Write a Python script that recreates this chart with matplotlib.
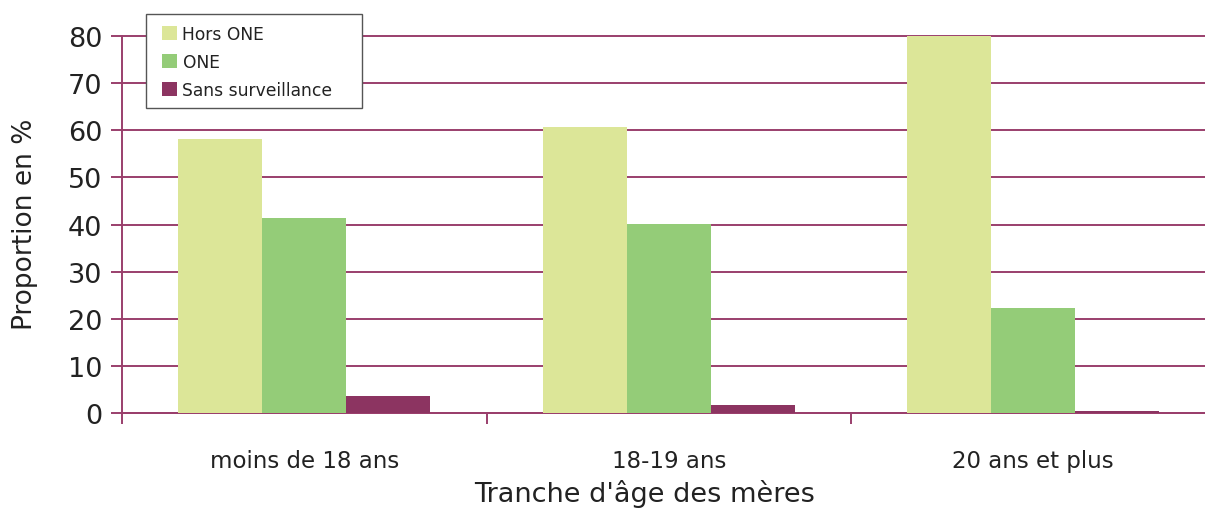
import matplotlib
matplotlib.use("Agg")
import matplotlib.pyplot as plt
import numpy as np
from matplotlib.patches import Patch, Rectangle

categories = ["moins de 18 ans", "18-19 ans", "20 ans et plus"]
series_names = ["Hors ONE", "ONE", "Sans surveillance"]
hors_one = [58.2, 60.7, 79.9]
one = [41.4, 40.1, 22.3]
sans = [3.6, 1.7, 0.5]
yticks = [0, 10, 20, 30, 40, 50, 60, 70, 80]

colors = ["#dce698", "#94cc78", "#8c3461"]
grid_color = "#9a3f6c"
text_color = "#222222"

plt.rcParams['font.family'] = ['DejaVu Sans']

fig = plt.figure(figsize=(12.05, 5.10), dpi=100)
ax = fig.add_axes([122/1205, 96/510, 1093.5/1205, 377/510])

x = np.arange(len(categories))
w = 0.23
for i, (vals, c) in enumerate(zip([hors_one, one, sans], colors)):
    ax.bar(x + (i - 1) * w, vals, width=w, color=c, zorder=3, linewidth=0)

ax.set_xlim(-0.5, 2.5)
ax.set_ylim(0, 80)
ax.set_yticks(yticks)
ax.set_yticklabels([str(v) for v in yticks], fontsize=19.5, color=text_color)
ax.yaxis.grid(True, color=grid_color, linewidth=1.4, zorder=0)
for gl in ax.get_ygridlines():
    gl.set_clip_on(False)
ax.set_axisbelow(True)

for s in ["top", "right"]:
    ax.spines[s].set_visible(False)
for s in ["left", "bottom"]:
    ax.spines[s].set_color(grid_color)
    ax.spines[s].set_linewidth(1.4)

ax.tick_params(axis="y", length=8, width=1.4, color=grid_color, pad=6)
ax.set_xticks([-0.5, 0.5, 1.5])
ax.set_xticklabels([])
ax.tick_params(axis="x", length=8, width=1.4, color=grid_color)
ax.set_xticks(x, minor=True)
ax.set_xticklabels(categories, minor=True, fontsize=16.5, color=text_color)
ax.tick_params(axis="x", which="minor", length=0, pad=26)

fig.text(25/1205, 1 - 224/510, "Proportion en %", rotation=90, fontsize=19,
         color=text_color, ha="center", va="center")
fig.text(645/1205, 1 - 494/510, "Tranche d'âge des mères", fontsize=19.5,
         color=text_color, ha="center", va="center")

frame = Rectangle((146/1205, 1 - 109/510), 216/1205, 94/510,
                  transform=fig.transFigure, facecolor="white",
                  edgecolor="#555555", linewidth=1.0, zorder=9)
fig.patches.append(frame)

handles = [Patch(facecolor=c, edgecolor="none") for c in colors]
leg = fig.legend(handles, series_names, loc="upper left",
                 bbox_to_anchor=(162/1205, 1 - 25.5/510), fontsize=12.3,
                 frameon=False, borderpad=0, borderaxespad=0,
                 handlelength=0.9, handleheight=0.9, handletextpad=0.3,
                 labelspacing=0.6)
leg.set_zorder(10)
for t in leg.get_texts():
    t.set_color(text_color)

fig.savefig("out.png", dpi=100)
